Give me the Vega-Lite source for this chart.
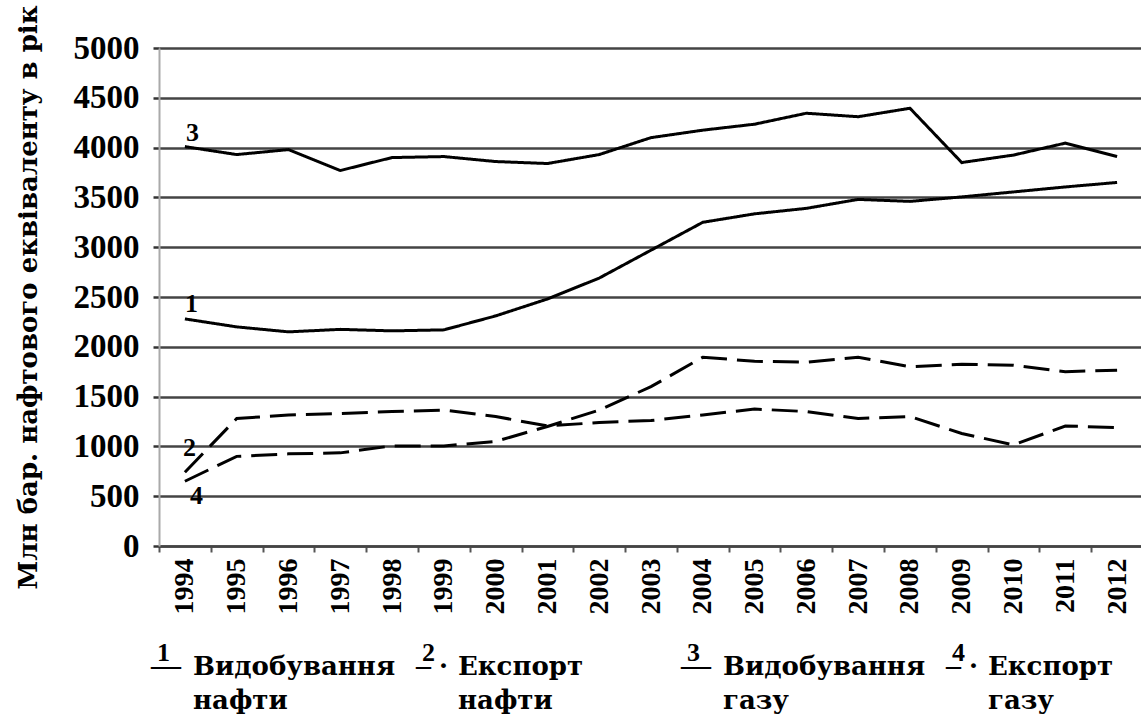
{
  "$schema": "https://vega.github.io/schema/vega-lite/v6.json",
  "padding": {"left": 14, "top": 4, "right": 0, "bottom": 0},
  "background": "white",
  "bounds": "flush",
  "spacing": 89,
  "config": {
    "font": "Liberation Serif",
    "view": {"stroke": null}
  },
  "vconcat": [
    {
      "width": 984,
      "height": 498,
      "data": {
        "values": [
          {"year": "1994", "oil_prod": 2280, "oil_exp": 740, "gas_prod": 4010, "gas_exp": 650},
          {"year": "1995", "oil_prod": 2200, "oil_exp": 1280, "gas_prod": 3930, "gas_exp": 900},
          {"year": "1996", "oil_prod": 2150, "oil_exp": 1315, "gas_prod": 3980, "gas_exp": 925},
          {"year": "1997", "oil_prod": 2175, "oil_exp": 1330, "gas_prod": 3770, "gas_exp": 935},
          {"year": "1998", "oil_prod": 2160, "oil_exp": 1350, "gas_prod": 3900, "gas_exp": 1005},
          {"year": "1999", "oil_prod": 2170, "oil_exp": 1365, "gas_prod": 3910, "gas_exp": 1005},
          {"year": "2000", "oil_prod": 2310, "oil_exp": 1300, "gas_prod": 3860, "gas_exp": 1050},
          {"year": "2001", "oil_prod": 2480, "oil_exp": 1205, "gas_prod": 3840, "gas_exp": 1200},
          {"year": "2002", "oil_prod": 2690, "oil_exp": 1240, "gas_prod": 3930, "gas_exp": 1365},
          {"year": "2003", "oil_prod": 2970, "oil_exp": 1260, "gas_prod": 4100, "gas_exp": 1600},
          {"year": "2004", "oil_prod": 3250, "oil_exp": 1315, "gas_prod": 4175, "gas_exp": 1895},
          {"year": "2005", "oil_prod": 3335, "oil_exp": 1375, "gas_prod": 4235, "gas_exp": 1855},
          {"year": "2006", "oil_prod": 3390, "oil_exp": 1350, "gas_prod": 4345, "gas_exp": 1845},
          {"year": "2007", "oil_prod": 3480, "oil_exp": 1280, "gas_prod": 4310, "gas_exp": 1895},
          {"year": "2008", "oil_prod": 3460, "oil_exp": 1300, "gas_prod": 4395, "gas_exp": 1800},
          {"year": "2009", "oil_prod": 3505, "oil_exp": 1130, "gas_prod": 3850, "gas_exp": 1825},
          {"year": "2010", "oil_prod": 3555, "oil_exp": 1015, "gas_prod": 3925, "gas_exp": 1815},
          {"year": "2011", "oil_prod": 3605, "oil_exp": 1205, "gas_prod": 4045, "gas_exp": 1750},
          {"year": "2012", "oil_prod": 3650, "oil_exp": 1190, "gas_prod": 3910, "gas_exp": 1765}
        ]
      },
      "transform": [
        {"fold": ["oil_prod", "oil_exp", "gas_prod", "gas_exp"], "as": ["series", "value"]}
      ],
      "encoding": {
        "x": {
          "field": "year",
          "type": "ordinal",
          "bandPosition": 0.5,
          "scale": {"type": "band", "paddingInner": 0, "paddingOuter": 0},
          "axis": {
            "title": null,
            "labelAngle": 270,
            "labelFont": "Liberation Serif",
            "labelFontSize": 28,
            "labelFontWeight": "bold",
            "labelColor": "black",
            "labelPadding": 6,
            "tickBand": "extent",
            "tickSize": 6,
            "tickColor": "#555",
            "tickWidth": 2,
            "domainColor": "#444",
            "domainWidth": 2.5,
            "grid": false
          }
        },
        "y": {
          "field": "value",
          "type": "quantitative",
          "scale": {"domain": [0, 5000], "nice": false},
          "axis": {
            "title": "Млн бар. нафтового еквіваленту в рік",
            "titleFont": "DejaVu Serif",
            "titleFontSize": 26,
            "titleFontWeight": "bold",
            "titleColor": "black",
            "titlePadding": 32,
            "format": "d",
            "values": [0, 500, 1000, 1500, 2000, 2500, 3000, 3500, 4000, 4500, 5000],
            "labelFont": "Liberation Serif",
            "labelFontSize": 33,
            "labelFontWeight": "bold",
            "labelColor": "black",
            "labelPadding": 14,
            "tickSize": 6,
            "tickColor": "#333",
            "tickWidth": 2.5,
            "domainColor": "#aaa",
            "domainWidth": 2,
            "grid": true,
            "gridColor": "#444",
            "gridWidth": 2.5
          }
        }
      },
      "layer": [
        {
          "mark": {"type": "line", "strokeWidth": 3, "color": "black"},
          "encoding": {
            "strokeDash": {
              "field": "series",
              "type": "nominal",
              "scale": {
                "domain": ["oil_prod", "oil_exp", "gas_prod", "gas_exp"],
                "range": [[1, 0], [26, 10], [1, 0], [26, 10]]
              },
              "legend": null
            }
          }
        },
        {
          "transform": [{"filter": "datum.year == '1994' && datum.series == 'gas_prod'"}],
          "mark": {"type": "text", "text": "3", "font": "Liberation Serif", "align": "left", "baseline": "alphabetic", "dx": 1, "dy": -6, "fontSize": 26, "fontWeight": "bold", "color": "black"}
        },
        {
          "transform": [{"filter": "datum.year == '1994' && datum.series == 'oil_prod'"}],
          "mark": {"type": "text", "text": "1", "font": "Liberation Serif", "align": "left", "baseline": "alphabetic", "dx": 0, "dy": -7, "fontSize": 26, "fontWeight": "bold", "color": "black"}
        },
        {
          "transform": [{"filter": "datum.year == '1994' && datum.series == 'oil_exp'"}],
          "mark": {"type": "text", "text": "2", "font": "Liberation Serif", "align": "left", "baseline": "alphabetic", "dx": -2, "dy": -16, "fontSize": 26, "fontWeight": "bold", "color": "black"}
        },
        {
          "transform": [{"filter": "datum.year == '1994' && datum.series == 'gas_exp'"}],
          "mark": {"type": "text", "text": "4", "font": "Liberation Serif", "align": "left", "baseline": "top", "dx": 5, "dy": 2, "fontSize": 26, "fontWeight": "bold", "color": "black"}
        }
      ]
    },
    {
      "width": 795,
      "height": 80,
      "data": {
        "values": [
          {"no": "1", "kind": "production", "label": "Видобування\nнафти"},
          {"no": "2", "kind": "export", "label": "Експорт\nнафти"},
          {"no": "3", "kind": "production", "label": "Видобування\nгазу"},
          {"no": "4", "kind": "export", "label": "Експорт\nгазу"}
        ]
      },
      "encoding": {
        "x": {"field": "no", "type": "nominal", "scale": {"type": "point", "padding": 0}, "axis": null}
      },
      "layer": [
        {
          "mark": {"type": "text", "font": "Liberation Serif", "align": "left", "baseline": "alphabetic", "dx": -2, "dy": -14, "fontSize": 26, "fontWeight": "bold", "color": "black"},
          "encoding": {"text": {"field": "no"}}
        },
        {
          "mark": {"type": "text", "font": "Liberation Serif", "align": "left", "baseline": "alphabetic", "dx": -8, "dy": 0, "fontSize": 30, "fontWeight": "bold", "color": "black"},
          "encoding": {"text": {"condition": {"test": "datum.kind == 'export'", "value": "– ·"}, "value": "—"}}
        },
        {
          "mark": {"type": "text", "font": "DejaVu Serif", "align": "left", "baseline": "alphabetic", "dx": 34, "dy": 0, "fontSize": 26, "fontWeight": "bold", "color": "black", "lineBreak": "\n", "lineHeight": 34},
          "encoding": {"text": {"field": "label"}}
        }
      ]
    }
  ]
}
